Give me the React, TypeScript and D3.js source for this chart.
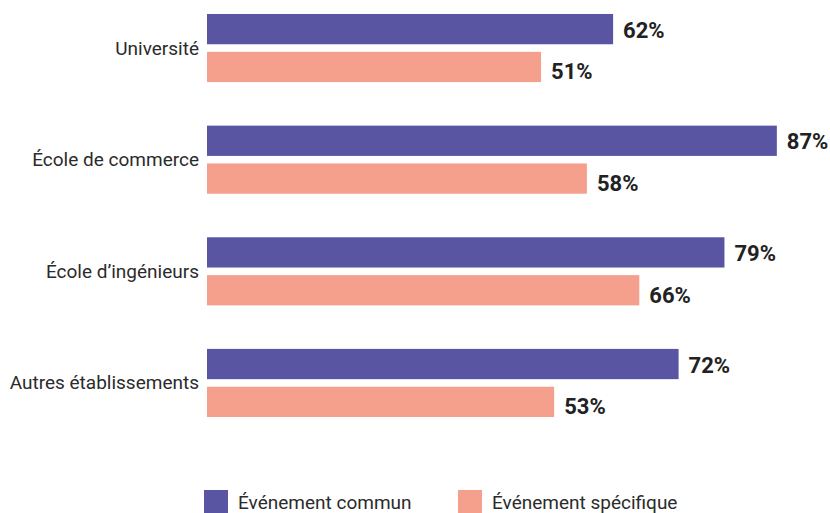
import React from 'react';
import * as d3 from 'd3';

const categories = ['Université', 'École de commerce', 'École d’ingénieurs', 'Autres établissements'];
const seriesNames = ['Événement commun', 'Événement spécifique'];
const communValues = [62, 87, 79, 72];
const specifiqueValues = [51, 58, 66, 53];
const seriesColors = ['#5a55a3', '#f5a08c'];

const width = 830;
const height = 513;

export default function App() {
  const x = d3.scaleLinear().domain([0, 100]).range([207, 862]);

  const y = d3.scaleBand<string>()
    .domain(categories)
    .range([14, 417])
    .paddingInner(0.39)
    .paddingOuter(0);

  const inner = d3.scaleBand<number>()
    .domain([0, 1])
    .range([0, y.bandwidth()])
    .paddingInner(0.2);

  const series = [communValues, specifiqueValues];
  // value labels sit slightly below bar centre, more so for the second bar
  const labelShift = [1, 5];

  const legendItems = [
    { x: 204, textX: 238 },
    { x: 458, textX: 492 },
  ];

  return (
    <svg
      width={width}
      height={height}
      style={{ position: 'absolute', left: 0, top: 0, background: '#ffffff' }}
      fontFamily="Roboto, 'Noto Sans', sans-serif"
    >
      {categories.map((cat, ci) => {
        const y0 = y(cat)!;
        return (
          <g key={cat}>
            <text
              x={x(0) - 8}
              y={y0 + y.bandwidth() / 2}
              textAnchor="end"
              dominantBaseline="central"
              fontSize={19}
              fill="#2b2b2b"
            >
              {cat}
            </text>
            {series.map((vals, si) => {
              const by = y0 + inner(si)!;
              const v = vals[ci];
              return (
                <g key={si}>
                  <rect
                    x={x(0)}
                    y={by}
                    width={x(v) - x(0)}
                    height={inner.bandwidth()}
                    fill={seriesColors[si]}
                  />
                  <text
                    x={x(v) + 10}
                    y={by + inner.bandwidth() / 2 + labelShift[si]}
                    dominantBaseline="central"
                    fontSize={22}
                    fontWeight={700}
                    fill="#222222"
                  >
                    {v}%
                  </text>
                </g>
              );
            })}
          </g>
        );
      })}

      {/* Legend */}
      {seriesNames.map((name, i) => (
        <g key={name}>
          <rect x={legendItems[i].x} y={490} width={24} height={24} fill={seriesColors[i]} />
          <text
            x={legendItems[i].textX}
            y={502}
            dominantBaseline="central"
            fontSize={19}
            fill="#2b2b2b"
          >
            {name}
          </text>
        </g>
      ))}
    </svg>
  );
}
